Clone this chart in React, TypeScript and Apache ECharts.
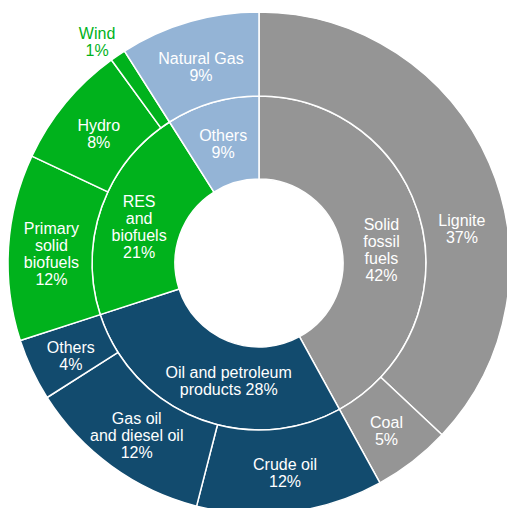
import React, { useEffect, useRef } from "react";
import * as echarts from "echarts";

// ---- data ----
const innerCategories = ["Solid fossil fuels", "Oil and petroleum products", "RES and biofuels", "Others"];
const innerLabels = ["Solid\nfossil\nfuels\n{p}%", "Oil and petroleum\nproducts {p}%", "RES\nand\nbiofuels\n{p}%", "Others\n{p}%"];
const innerValues = [42, 28, 21, 9];

const outerCategories = [
  "Lignite", "Coal", "Crude oil", "Gas oil and diesel oil", "Others",
  "Primary solid biofuels", "Hydro", "Wind", "Natural Gas",
];
const outerLabels = [
  "Lignite\n{p}%", "Coal\n{p}%", "Crude oil\n{p}%", "Gas oil\nand diesel oil\n{p}%", "Others\n{p}%",
  "Primary\nsolid\nbiofuels\n{p}%", "Hydro\n{p}%", "Wind\n{p}%", "Natural Gas\n{p}%",
];
const outerValues = [37, 5, 12, 12, 4, 12, 8, 1, 9];
const outerParent = [0, 0, 1, 1, 1, 2, 2, 2, 3];

// ---- styles ----
const groupColors = ["#959595", "#124B6E", "#00B21C", "#94B4D6"];
const FONT = "Liberation Sans, Arial, sans-serif";
const GLOBAL_DY = 4;
const OUTER_INWARD = 4;
const innerShift: Record<number, [number, number]> = { 0: [-2, 15], 1: [17, -5.5], 2: [1, 4] };
const outerShift: Record<number, [number, number]> = { 0: [12, 45], 7: [-45, -53] };

function midAngles(values: number[]) {
  const total = values.reduce((a, b) => a + b, 0);
  let acc = 0;
  return values.map((v) => {
    const mid = ((acc + v / 2) / total) * Math.PI * 2;
    acc += v;
    return mid;
  });
}

export default function App() {
  const ref = useRef<HTMLDivElement>(null);
  useEffect(() => {
    if (!ref.current) return;
    const chart = echarts.init(ref.current, undefined, { renderer: "svg" });
    const outerMid = midAngles(outerValues);
    const baseLabel = {
      show: true,
      position: "inside",
      color: "#fff",
      fontFamily: FONT,
      fontSize: 16,
      lineHeight: 17,
      align: "center",
    };
    chart.setOption({
      animation: false,
      backgroundColor: "#fff",
      series: [
        {
          type: "pie",
          center: [259, 263],
          radius: [84, 167],
          startAngle: 90,
          clockwise: true,
          avoidLabelOverlap: false,
          labelLine: { show: false },
          emphasis: { disabled: true },
          itemStyle: { borderColor: "#fff", borderWidth: 1.5 },
          label: baseLabel,
          labelLayout: (p: any) => {
            const s = innerShift[p.dataIndex] || [0, 0];
            return { dx: s[0], dy: s[1] + GLOBAL_DY };
          },
          data: innerCategories.map((name, i) => ({
            name,
            value: innerValues[i],
            itemStyle: { color: groupColors[i] },
            label: { formatter: innerLabels[i].replace("{p}", String(innerValues[i])) },
          })),
        },
        {
          type: "pie",
          center: [259, 263],
          radius: [167, 251],
          startAngle: 90,
          clockwise: true,
          avoidLabelOverlap: false,
          labelLine: { show: false },
          emphasis: { disabled: true },
          itemStyle: { borderColor: "#fff", borderWidth: 1.5 },
          label: baseLabel,
          labelLayout: (p: any) => {
            const s = outerShift[p.dataIndex] || [0, 0];
            const a = outerMid[p.dataIndex];
            const rx = -OUTER_INWARD * Math.sin(a);
            const ry = OUTER_INWARD * Math.cos(a);
            return { dx: s[0] + rx, dy: s[1] + ry + GLOBAL_DY };
          },
          data: outerCategories.map((name, i) => ({
            name,
            value: outerValues[i],
            itemStyle: { color: groupColors[outerParent[i]] },
            label: {
              formatter: outerLabels[i].replace("{p}", String(outerValues[i])),
              color: name === "Wind" ? groupColors[2] : "#fff",
            },
          })),
        },
      ],
    });
    return () => chart.dispose();
  }, []);
  return (
    <div
      ref={ref}
      style={{ position: "absolute", left: 0, top: 0, width: 507, height: 508 }}
    />
  );
}
